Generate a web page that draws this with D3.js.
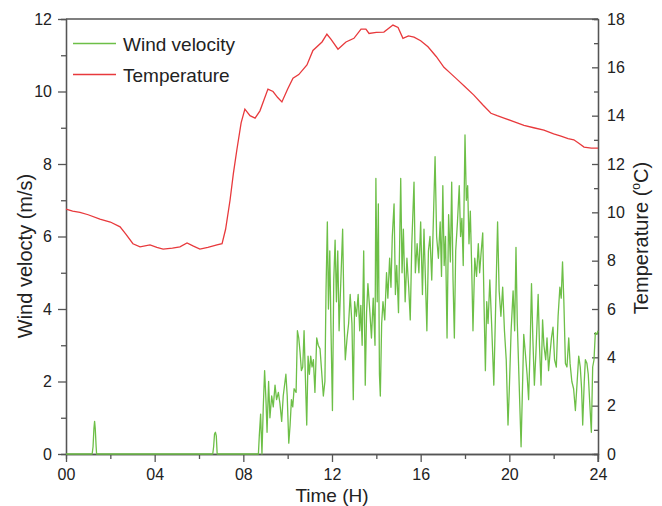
<!DOCTYPE html>
<html>
<head>
<meta charset="utf-8">
<script src="https://cdn.jsdelivr.net/npm/d3@7"></script>
<style>
  html, body { margin: 0; padding: 0; background: #fff; }
  svg { display: block; font-family: "Liberation Sans", Arial, sans-serif; }
</style>
</head>
<body>
<svg id="chart" width="662" height="506"></svg>
<script>
// Hourly axis ticks and labels
const xMajorTicks = [0, 4, 8, 12, 16, 20, 24];
const xMinorTicks = [2, 6, 10, 14, 18, 22];
const leftMajorTicks = [0, 2, 4, 6, 8, 10, 12];
const leftMinorTicks = [1, 3, 5, 7, 9, 11];
const rightMajorTicks = [0, 2, 4, 6, 8, 10, 12, 14, 16, 18];
const rightMinorTicks = [1, 3, 5, 7, 9, 11, 13, 15, 17];

// Temperature (°C) against time of day (h)
const tempHours = [0.0, 0.3, 0.63, 1.0, 1.53, 2.0, 2.44, 2.7, 3.02, 3.34, 3.79, 4.1, 4.38, 4.8, 5.14, 5.46, 5.75, 6.04, 6.4, 6.81, 7.04, 7.2, 7.4, 7.55, 7.71, 7.9, 8.07, 8.3, 8.53, 8.75, 9.11, 9.34, 9.55, 9.74, 10.0, 10.24, 10.5, 10.87, 11.14, 11.55, 11.77, 11.95, 12.27, 12.63, 12.99, 13.31, 13.53, 13.67, 14.0, 14.34, 14.75, 14.98, 15.2, 15.45, 15.7, 16.0, 16.33, 16.7, 17.05, 17.35, 17.68, 18.0, 18.4, 18.8, 19.17, 19.45, 19.76, 20.2, 20.66, 21.1, 21.56, 22.0, 22.33, 22.65, 22.91, 23.15, 23.37, 23.7, 24.0];
const tempValues = [10.13, 10.05, 10.0, 9.9, 9.72, 9.6, 9.4, 9.1, 8.7, 8.57, 8.65, 8.55, 8.48, 8.52, 8.57, 8.73, 8.6, 8.48, 8.55, 8.65, 8.7, 9.3, 10.5, 11.6, 12.6, 13.7, 14.27, 14.0, 13.9, 14.2, 15.1, 15.0, 14.75, 14.57, 15.1, 15.55, 15.7, 16.1, 16.7, 17.05, 17.37, 17.17, 16.75, 17.05, 17.2, 17.58, 17.58, 17.4, 17.45, 17.46, 17.75, 17.65, 17.2, 17.3, 17.25, 17.1, 16.85, 16.45, 16.0, 15.75, 15.47, 15.2, 14.85, 14.45, 14.1, 14.0, 13.9, 13.75, 13.6, 13.5, 13.4, 13.25, 13.15, 13.05, 13.0, 12.85, 12.7, 12.66, 12.66];

// Wind velocity (m/s) against time of day (h)
const windHours = [0.0, 1.18, 1.22, 1.26, 1.29, 1.32, 1.36, 1.38, 6.62, 6.66, 6.70, 6.74, 6.78, 6.82, 8.68,
  8.72, 8.78, 8.84, 8.90, 8.96, 9.02, 9.07, 9.14, 9.20, 9.28, 9.35, 9.43, 9.50, 9.58, 9.65, 9.73, 9.80, 9.88, 9.92, 9.98,
  10.05, 10.11, 10.17, 10.23, 10.29, 10.38, 10.44, 10.50, 10.56, 10.62, 10.68, 10.74, 10.80, 10.86, 10.92, 10.98,
  11.04, 11.10, 11.16, 11.23, 11.31, 11.38, 11.46, 11.53, 11.61, 11.68, 11.73, 11.79, 11.84, 11.90, 11.95,
  12.02, 12.08, 12.14, 12.20, 12.26, 12.32, 12.40, 12.48, 12.55, 12.60, 12.68, 12.75, 12.82, 12.90, 12.96,
  13.02, 13.10, 13.18, 13.25, 13.30, 13.36, 13.43, 13.50, 13.56, 13.62, 13.70, 13.78, 13.86, 13.94, 13.98,
  14.04, 14.09, 14.14, 14.18, 14.24, 14.30, 14.38, 14.46, 14.52, 14.60, 14.66, 14.72, 14.80, 14.86, 14.92,
  15.00, 15.10, 15.16, 15.22, 15.30, 15.38, 15.46, 15.53, 15.60, 15.70, 15.76, 15.84, 15.92,
  16.00, 16.08, 16.15, 16.22, 16.28, 16.35, 16.42, 16.50, 16.58, 16.65, 16.72, 16.80, 16.88, 16.94,
  17.00, 17.06, 17.12, 17.19, 17.26, 17.34, 17.40, 17.46, 17.52, 17.58, 17.66, 17.74, 17.80, 17.86, 17.92,
  18.00, 18.06, 18.12, 18.18, 18.24, 18.30, 18.36, 18.44, 18.52, 18.60, 18.66, 18.72, 18.80, 18.86, 18.92, 18.98,
  19.04, 19.12, 19.20, 19.30, 19.38, 19.47, 19.54, 19.62, 19.70, 19.78, 19.86, 19.94,
  20.00, 20.08, 20.17, 20.24, 20.30, 20.36, 20.42, 20.48, 20.53, 20.60, 20.65, 20.72, 20.80, 20.87, 20.94,
  21.00, 21.06, 21.13, 21.20, 21.30, 21.36, 21.43, 21.50, 21.56, 21.64, 21.70, 21.77, 21.84, 21.90, 21.97,
  22.04, 22.12, 22.20, 22.28, 22.34, 22.40, 22.46, 22.53, 22.60, 22.68, 22.74, 22.82, 22.90, 22.98,
  23.06, 23.13, 23.20, 23.26, 23.31, 23.38, 23.43, 23.50, 23.56, 23.62, 23.70, 23.76, 23.82, 23.88, 23.95, 24.00];
const windValues = [0, 0, 0.2, 0.7, 0.9, 0.7, 0.2, 0, 0, 0.2, 0.55, 0.6, 0.5, 0, 0,
  0.5, 1.1, 0, 1.3, 2.3, 1.5, 0.6, 2.0, 1.0, 1.6, 1.3, 1.9, 1.5, 1.7, 1.4, 0.9, 1.6, 2.0, 2.2, 1.6,
  0.3, 0.8, 1.5, 1.3, 1.8, 1.7, 3.4, 3.2, 2.8, 2.3, 2.4, 3.4, 2.1, 0.8, 2.7, 2.2,
  2.7, 2.4, 2.6, 1.7, 3.2, 3.0, 2.9, 2.3, 1.6, 2.0, 4.5, 6.4, 4.0, 5.6, 3.6,
  1.2, 4.8, 5.9, 4.2, 5.6, 3.4, 4.8, 6.2, 3.6, 2.6, 3.2, 3.6, 4.4, 3.6, 1.5,
  4.2, 3.8, 4.4, 3.4, 4.1, 3.0, 5.6, 1.9, 3.9, 4.7, 4.0, 3.2, 4.3, 3.0, 7.6,
  4.2, 6.9, 2.2, 1.6, 3.6, 4.2, 3.7, 5.0, 4.3, 5.4, 4.6, 6.0, 6.9, 4.4, 5.2,
  3.9, 7.6, 5.0, 6.2, 4.2, 5.4, 4.6, 3.7, 5.8, 7.5, 5.0, 5.8, 5.0,
  6.4, 4.4, 6.2, 4.7, 3.4, 5.6, 6.0, 4.8, 6.6, 8.2, 6.0, 5.4, 6.4, 4.9,
  7.4, 5.2, 6.0, 3.2, 6.6, 5.3, 7.5, 4.8, 3.2, 5.6, 6.4, 7.4, 6.0, 6.5, 5.2,
  8.8, 7.0, 7.4, 5.8, 6.7, 5.2, 3.4, 5.4, 4.9, 5.8, 5.0, 5.5, 6.1, 4.1, 2.3, 4.2,
  3.6, 4.8, 3.6, 1.9, 4.0, 6.4, 4.5, 3.8, 4.6, 3.4, 2.6, 0.8,
  1.8, 3.4, 4.5, 3.4, 5.7, 3.6, 2.4, 1.2, 0.2, 2.0, 3.3, 2.8, 2.2, 1.5, 3.0,
  4.7, 3.2, 1.9, 2.8, 4.4, 3.0, 1.9, 3.7, 3.0, 2.6, 3.2, 2.3, 2.8, 3.2, 3.5,
  2.6, 2.4, 3.8, 4.6, 4.3, 5.3, 4.2, 2.5, 2.4, 3.2, 2.5, 2.0, 1.8, 1.2,
  2.0, 2.7, 2.4, 1.8, 0.8, 2.0, 2.6, 2.5, 2.2, 1.5, 0.6, 2.4, 2.6, 3.35, 3.3, 3.4];

const seriesNames = ["Wind velocity", "Temperature"];
const seriesColors = ["#6dbf47", "#e8393c"];

const svg = d3.select("#chart");
const margin = { left: 66, right: 64, top: 19, bottom: 52 };
const W = 662, H = 506;

const x = d3.scaleLinear().domain([0, 24]).range([margin.left, W - margin.right]);
const yL = d3.scaleLinear().domain([0, 12]).range([H - margin.bottom, margin.top]);
const yR = d3.scaleLinear().domain([0, 18]).range([H - margin.bottom, margin.top]);

const axisColor = "#555";
const textColor = "#222";

function styleAxis(g) {
  g.selectAll(".domain").attr("stroke", axisColor).attr("stroke-width", 1.3);
  g.selectAll(".tick line").attr("stroke", axisColor).attr("stroke-width", 1.3);
  g.selectAll(".tick text").attr("fill", textColor).style("font-size", "16px")
    .style("font-family", "'Liberation Sans', Arial, sans-serif");
}

// top frame line
svg.append("line")
  .attr("x1", x(0)).attr("x2", x(24))
  .attr("y1", yL(12)).attr("y2", yL(12))
  .attr("stroke", axisColor).attr("stroke-width", 1.3);

// bottom axis: minor ticks, then major ticks with labels
svg.append("g").attr("transform", `translate(0,${yL(0)})`)
  .call(d3.axisBottom(x).tickValues(xMinorTicks).tickSize(5).tickFormat(""))
  .call(styleAxis);
const gx = svg.append("g").attr("transform", `translate(0,${yL(0)})`)
  .call(d3.axisBottom(x).tickValues(xMajorTicks).tickSize(8).tickSizeOuter(0).tickPadding(7).tickFormat(d3.format("02d")))
  .call(styleAxis);

// left axis
svg.append("g").attr("transform", `translate(${x(0)},0)`)
  .call(d3.axisLeft(yL).tickValues(leftMinorTicks).tickSize(5).tickFormat(""))
  .call(styleAxis);
svg.append("g").attr("transform", `translate(${x(0)},0)`)
  .call(d3.axisLeft(yL).tickValues(leftMajorTicks).tickSize(8).tickSizeOuter(0).tickPadding(6))
  .call(styleAxis);

// right axis: ticks point inward, labels outside
svg.append("g").attr("transform", `translate(${x(24)},0)`)
  .call(d3.axisRight(yR).tickValues(rightMinorTicks).tickSize(-4).tickFormat(""))
  .call(styleAxis);
const gr = svg.append("g").attr("transform", `translate(${x(24)},0)`)
  .call(d3.axisRight(yR).tickValues(rightMajorTicks).tickSize(-6).tickSizeOuter(0).tickPadding(10))
  .call(styleAxis);
gr.selectAll(".tick text").attr("x", 9);

// extend right axis below zero like the bottom ticks
svg.append("line")
  .attr("x1", x(24)).attr("x2", x(24))
  .attr("y1", yL(0)).attr("y2", yL(0) + 8)
  .attr("stroke", axisColor).attr("stroke-width", 1.3);

// series lines
const windData = windHours.map((h, i) => [h, windValues[i]]);
const tempData = tempHours.map((h, i) => [h, tempValues[i]]);

svg.append("path")
  .datum(tempData)
  .attr("fill", "none")
  .attr("stroke", seriesColors[1])
  .attr("stroke-width", 1.3)
  .attr("d", d3.line().x(d => x(d[0])).y(d => yR(d[1])));

svg.append("path")
  .datum(windData)
  .attr("fill", "none")
  .attr("stroke", seriesColors[0])
  .attr("stroke-width", 1.3)
  .attr("stroke-linejoin", "round")
  .attr("d", d3.line().x(d => x(d[0])).y(d => yL(d[1])));

// legend
const legend = svg.append("g").attr("transform", `translate(${x(0) + 7},43.5)`);
seriesNames.forEach((name, i) => {
  const row = legend.append("g").attr("transform", `translate(0,${i * 31})`);
  row.append("line").attr("x1", 0).attr("x2", 43).attr("y1", 0).attr("y2", 0)
    .attr("stroke", seriesColors[i]).attr("stroke-width", 1.5);
  row.append("text").attr("x", 50).attr("y", 7)
    .attr("fill", textColor).style("font-size", "19px").text(name);
});

// axis titles
svg.append("text")
  .attr("x", (x(0) + x(24)) / 2).attr("y", 502)
  .attr("text-anchor", "middle").attr("fill", textColor)
  .style("font-size", "19px").text("Time (H)");

svg.append("text")
  .attr("transform", `translate(32,${256}) rotate(-90)`)
  .attr("text-anchor", "middle").attr("fill", textColor)
  .style("font-size", "20px").text("Wind velocty (m/s)");

const rt = svg.append("text")
  .attr("transform", `translate(648,${238}) rotate(-90)`)
  .attr("text-anchor", "middle").attr("fill", textColor)
  .style("font-size", "20px");
rt.append("tspan").text("Temperature (");
rt.append("tspan").attr("dy", -8).style("font-size", "12px").text("o");
rt.append("tspan").attr("dy", 8).text("C)");
</script>
</body>
</html>
